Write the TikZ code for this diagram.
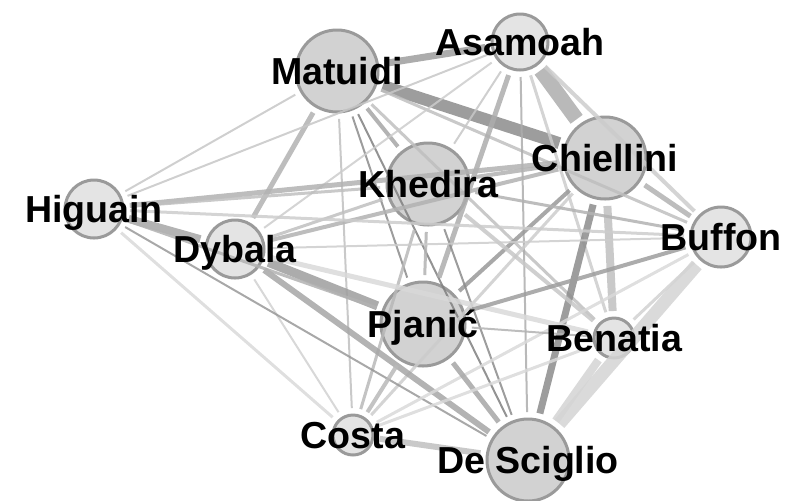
\documentclass[tikz,border=0pt]{standalone}
\usepackage{fontspec}
\setmainfont{Liberation Sans}
\usepackage{tikz}
\usetikzlibrary{positioning}
\definecolor{darkfill}{HTML}{D2D2D2}
\definecolor{lightfill}{HTML}{E4E4E4}
\definecolor{ringgray}{HTML}{9A9A9A}

\begin{document}
\begin{tikzpicture}[x=0.5pt, y=-0.5pt,
        pl/.style={circle, draw=ringgray, line width=1.5pt, fill=#1, inner sep=0pt, outer sep=3.5pt},
        lk/.style 2 args={line width=#1pt, draw=black!#2, draw opacity=0.85},
        nm/.style={font=\bfseries\fontsize{18.8}{20}\selectfont, inner sep=0pt, text depth=0}]
        \useasboundingbox (0,0) rectangle (787,500);
        \node[pl=darkfill, minimum size=41pt] (ma) at (337,71) {};
        \node[pl=lightfill, minimum size=28pt] (as) at (520,42) {};
        \node[pl=darkfill, minimum size=41pt] (ch) at (605,158) {};
        \node[pl=darkfill, minimum size=41pt] (kh) at (428,184) {};
        \node[pl=lightfill, minimum size=29pt] (hi) at (94,209) {};
        \node[pl=lightfill, minimum size=29pt] (dy) at (235,249) {};
        \node[pl=lightfill, minimum size=30pt] (bu) at (721,237) {};
        \node[pl=darkfill, minimum size=42pt] (pj) at (423,324) {};
        \node[pl=lightfill, minimum size=20pt] (be) at (614,338) {};
        \node[pl=lightfill, minimum size=20pt] (co) at (353,435) {};
        \node[pl=darkfill, minimum size=41pt] (ds) at (528,460) {};

        \draw[lk={3.5}{38}] (ma) -- (as);
        \draw[lk={6}{45}] (ma) -- (ch);
        \draw[lk={2}{35}] (ma) -- (kh);
        \draw[lk={2.5}{30}] (ma) -- (dy);
        \draw[lk={1}{22}] (ma) -- (hi);
        \draw[lk={1}{25}] (ma) -- (co);
        \draw[lk={1}{45}] (ma) -- (pj);
        \draw[lk={1}{50}] (ma) -- (ds);
        \draw[lk={1.5}{25}] (ma) -- (be);
        \draw[lk={1.5}{25}] (ma) -- (bu);

        \draw[lk={7.5}{32}] (as) -- (ch);
        \draw[lk={2}{20}] (as) -- (bu);
        \draw[lk={2.5}{32}] (as) -- (pj);
        \draw[lk={1}{32}] (as) -- (ds);
        \draw[lk={1.5}{20}] (as) -- (be);
        \draw[lk={1}{22}] (as) -- (kh);
        \draw[lk={1}{20}] (as) -- (dy);
        \draw[lk={1}{22}] (as) -- (hi);

        \draw[lk={2}{30}] (ch) -- (kh);
        \draw[lk={2.5}{30}] (ch) -- (hi);
        \draw[lk={2}{30}] (ch) -- (dy);
        \draw[lk={2.5}{30}] (ch) -- (bu);
        \draw[lk={2}{40}] (ch) -- (pj);
        \draw[lk={3.5}{45}] (ch) -- (ds);
        \draw[lk={4}{25}] (ch) -- (be);
        \draw[lk={1.5}{20}] (ch) -- (co);

        \draw[lk={1.5}{25}] (kh) -- (hi);
        \draw[lk={1.5}{25}] (kh) -- (dy);
        \draw[lk={1.5}{30}] (kh) -- (bu);
        \draw[lk={1.5}{30}] (kh) -- (pj);
        \draw[lk={2}{22}] (kh) -- (be);
        \draw[lk={1}{45}] (kh) -- (ds);
        \draw[lk={1.5}{28}] (kh) -- (co);

        \draw[lk={4}{35}] (dy) -- (hi);
        \draw[lk={4.5}{38}] (dy) -- (pj);
        \draw[lk={3}{35}] (dy) -- (ds);
        \draw[lk={1}{18}] (dy) -- (co);
        \draw[lk={2.5}{15}] (dy) -- (be);
        \draw[lk={1}{20}] (dy) -- (bu);

        \draw[lk={1.5}{20}] (hi) -- (bu);
        \draw[lk={1.5}{15}] (hi) -- (co);
        \draw[lk={1}{40}] (hi) -- (ds);
        \draw[lk={1.5}{30}] (hi) -- (pj);

        \draw[lk={2}{38}] (bu) -- (pj);
        \draw[lk={1.5}{18}] (bu) -- (be);
        \draw[lk={6.5}{17}] (bu) -- (ds);
        \draw[lk={1.5}{15}] (bu) -- (co);

        \draw[lk={2.5}{35}] (pj) -- (ds);
        \draw[lk={2}{28}] (pj) -- (co);
        \draw[lk={1}{30}] (pj) -- (be);

        \draw[lk={3}{25}] (co) -- (ds);
        \draw[lk={1.5}{15}] (co) -- (be);
        \draw[lk={4}{17}] (be) -- (ds);

        \node[nm] (tma) at (ma) {Matuidi};
        \node[nm] (tas) at (as) {Asamoah};
        \node[nm] (tch) at (ch) {Chiellini};
        \node[nm] (tkh) at (kh) {Khedira};
        \node[nm] (thi) at (hi) {Higuain};
        \node[nm] (tdy) at (dy) {Dybala};
        \node[nm] (tbu) at (bu) {Buffon};
        \node[nm] (tpj) at (pj) {Pjanić};
        \node[nm] (tbe) at (be) {Benatia};
        \node[nm] (tco) at (co) {Costa};
        \node[nm] (tds) at (ds) {De Sciglio};
    \end{tikzpicture}
\end{document}
